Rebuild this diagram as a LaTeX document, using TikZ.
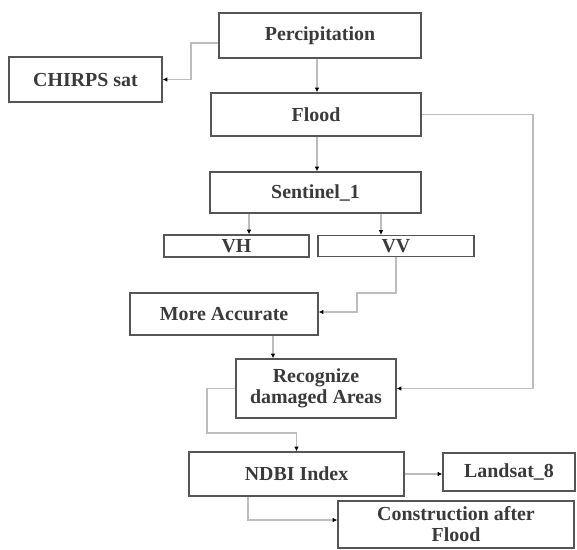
\documentclass[tikz,border=0pt]{standalone}
\usepackage{fontspec}
\setmainfont{Liberation Serif}
\usepackage{tikz}
\usetikzlibrary{arrows.meta}
\definecolor{boxline}{HTML}{555555}
\definecolor{linkline}{HTML}{BDBDBD}
\definecolor{labeltext}{HTML}{3A3A3A}

\begin{document}
\begin{tikzpicture}[x=0.03cm,y=-0.03cm,
	box/.style={draw=boxline,line width=1.2pt,rectangle,inner sep=2pt,align=center,
		text=labeltext,font=\fontsize{17}{18}\selectfont\bfseries},
	link/.style={draw=linkline,line width=1.1pt,-{Latex[length=4pt,width=4pt,color=black]}}]
\useasboundingbox (0,0) rectangle (577,550);
\node (perc) [box,minimum width=6.06cm,minimum height=1.35cm] at (320,35.5) {Percipitation};
\node (chirps) [box,minimum width=4.59cm,minimum height=1.35cm] at (85.5,79.5) {CHIRPS sat};
\node (flood) [box,minimum width=6.30cm,minimum height=1.29cm] at (316,114.5) {Flood};
\node (sent) [box,minimum width=6.33cm,minimum height=1.23cm] at (315.5,192.5) {Sentinel\_1};
\node (vh) [box,minimum width=4.35cm,minimum height=0.66cm,inner sep=0pt] at (236.5,246) {VH};
\node (vv) [box,minimum width=4.68cm,minimum height=0.63cm,inner sep=0pt] at (396,246) {VV};
\node (acc) [box,minimum width=5.64cm,minimum height=1.26cm] at (224,314) {More Accurate};
\node (recog) [box,minimum width=4.80cm,minimum height=1.77cm] at (316,388.5) {Recognize\\damaged Areas};
\node (ndbi) [box,minimum width=6.45cm,minimum height=1.32cm] at (296.5,474) {NDBI Index};
\node (land) [box,minimum width=3.96cm,minimum height=1.14cm] at (509,472) {Landsat\_8};
\node (constr) [box,minimum width=7.08cm,minimum height=1.41cm] at (456,524.5) {Construction after\\Flood};

\draw [link] (perc.west |- 0,43) -- (191,43) |- (chirps.east);
\draw [link] (perc.south -| 317,0) -- (flood.north -| 317,0);
\draw [link] (flood.east) -- (533,114.5) |- (recog.east);
\draw [link] (flood.south -| 317,0) -- (sent.north -| 317,0);
\draw [link] (sent.south -| 249,0) -- (vh.north -| 249,0);
\draw [link] (sent.south -| 381,0) -- (vv.north -| 381,0);
\draw [link] (vv.south) -- (396,293) -| (357,312) -- (acc.east |- 0,312);
\draw [link] (acc.south -| 273,0) -- (recog.north -| 273,0);
\draw [link] (recog.west) -| (207,433) -| (ndbi.north);
\draw [link] (ndbi.east) -- (land.west |- ndbi.east);
\draw [link] (ndbi.south -| 248,0) |- (constr.west |- 0,520);
\end{tikzpicture}
\end{document}
